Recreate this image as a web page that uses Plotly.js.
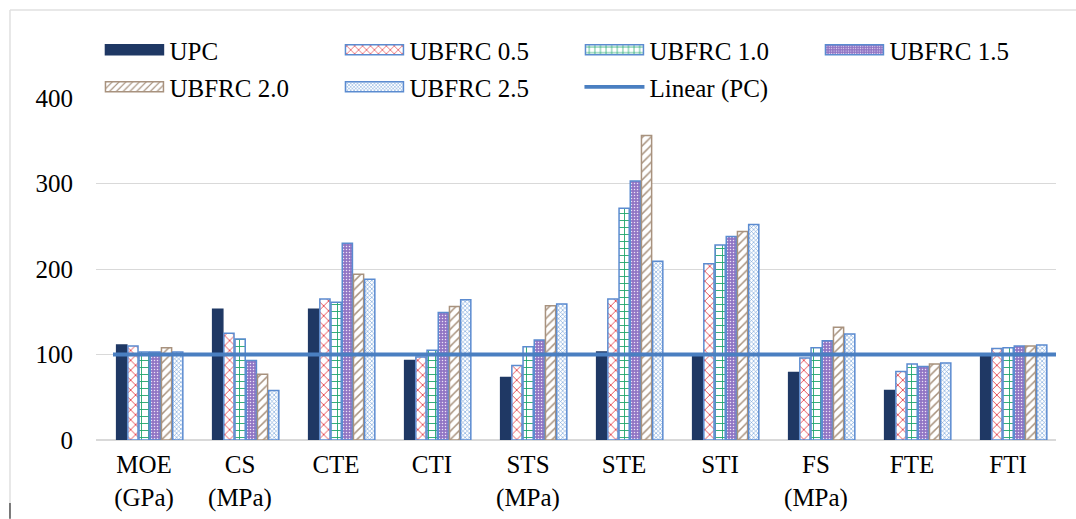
<!DOCTYPE html>
<html>
<head>
<meta charset="utf-8">
<script src="https://cdn.plot.ly/plotly-3.0.1.min.js"></script>
<style>html,body{margin:0;padding:0;background:#fff;}#chart{width:1076px;height:519px;}</style>
</head>
<body>
<div id="chart"></div>
<script>
var categories = ["MOE<br>(GPa)", "CS<br>(MPa)", "CTE", "CTI", "STS<br>(MPa)", "STE", "STI", "FS<br>(MPa)", "FTE", "FTI"];
var upc     = [111, 153, 153, 93, 73, 103, 98, 79, 58, 98];
var ubfrc05 = [110, 125, 165, 97, 87, 165, 206, 96, 80, 107];
var ubfrc10 = [103, 118, 161, 105, 109, 271, 228, 108, 89, 108];
var ubfrc15 = [103, 93, 230, 149, 117, 303, 238, 116, 86, 110];
var ubfrc20 = [108, 77, 194, 156, 157, 356, 244, 132, 89, 110];
var ubfrc25 = [103, 58, 188, 164, 159, 209, 252, 124, 90, 111];
var pcValue = [100, 100];
var trendSpan = [0.0177, 1];
var yTicks = [0, 100, 200, 300, 400];

var serif = "Liberation Serif";
var borderBlue = "#5b8bd0";
var step = 0.1167, bw = 0.106, start = -0.285;

function bar(name, y, idx, markerColor, lineColor, pattern, legend) {
  var m = {color: markerColor, line: {color: lineColor, width: 1.5}};
  if (pattern) m.pattern = pattern;
  return {type: "bar", name: name, x: categories, y: y, marker: m,
          width: bw, offset: start + idx * step, legend: legend, hoverinfo: "y"};
}

var traces = [
  bar("UPC", upc, 0, "#1f3864", "#1f3864", null, "legend"),
  bar("UBFRC 0.5", ubfrc05, 1, "#ffffff", borderBlue,
      {shape: "x", fgcolor: "#e3424b", bgcolor: "#ffffff", size: 7, solidity: 0.24, fillmode: "replace"}, "legend"),
  bar("UBFRC 1.0", ubfrc10, 2, "#ffffff", borderBlue,
      {shape: "+", fgcolor: "#1fa56c", bgcolor: "#ffffff", size: 7, solidity: 0.24, fillmode: "replace"}, "legend"),
  bar("UBFRC 1.5", ubfrc15, 3, "#9a7cc9", borderBlue,
      {shape: ".", fgcolor: "#ece4f6", bgcolor: "#9175c4", size: 3, solidity: 0.2, fillmode: "replace"}, "legend"),
  bar("UBFRC 2.0", ubfrc20, 4, "#ffffff", "#a8927e",
      {shape: "/", fgcolor: "#a8927e", bgcolor: "#ffffff", size: 6, solidity: 0.25, fillmode: "replace"}, "legend2"),
  bar("UBFRC 2.5", ubfrc25, 5, "#ffffff", borderBlue,
      {shape: "x", fgcolor: "#6f9fd8", bgcolor: "#ffffff", size: 3, solidity: 0.35, fillmode: "replace"}, "legend2"),
  {type: "scatter", mode: "lines", name: "Linear (PC)", x: trendSpan, y: pcValue,
   xaxis: "x2", yaxis: "y", line: {color: "#4a7fc1", width: 3.8}, legend: "legend2", hoverinfo: "skip"}
];

var legendBase = {orientation: "h", xanchor: "left", yanchor: "middle", x: 0.0036,
  font: {family: serif, size: 25, color: "#000"}, entrywidth: 165, entrywidthmode: "pixels",
  bgcolor: "rgba(0,0,0,0)", itemwidth: 60, traceorder: "normal"};

var layout = {
  width: 1076, height: 519,
  margin: {l: 96, r: 20, t: 98, b: 79},
  paper_bgcolor: "#ffffff", plot_bgcolor: "#ffffff",
  barmode: "overlay",
  showlegend: true,
  legend: Object.assign({}, legendBase, {y: 1.14}),
  legend2: Object.assign({}, legendBase, {y: 1.032}),
  xaxis: {type: "category", range: [-0.5, 9.5], showgrid: false, zeroline: false, showline: false,
          ticks: "", ticklabelstandoff: 7,
          tickfont: {family: serif, size: 25, color: "#000"}, fixedrange: true},
  xaxis2: {overlaying: "x", range: [0, 1], visible: false, fixedrange: true},
  yaxis: {range: [0, 400], tickvals: yTicks, showgrid: true, gridcolor: "#d9d9d9", gridwidth: 1,
          zeroline: true, zerolinecolor: "#d9d9d9", zerolinewidth: 1.5, showline: false, ticks: "",
          ticklabelstandoff: 22,
          tickfont: {family: serif, size: 25, color: "#000"}, fixedrange: true},
  shapes: [
    {type: "line", xref: "paper", yref: "paper", x0: -0.0896, x1: 1.03, y0: 1.2573, y1: 1.2573, line: {color: "#e0e0e0", width: 1.5}},
    {type: "line", xref: "paper", yref: "paper", x0: -0.0896, x1: -0.0896, y0: 1.2573, y1: -0.23, line: {color: "#e0e0e0", width: 1.5}},
    {type: "line", xref: "paper", yref: "paper", x0: -0.0896, x1: -0.0896, y0: -0.184, y1: -0.23, line: {color: "#555555", width: 1.5}}
  ]
};

Plotly.newPlot("chart", traces, layout, {displayModeBar: false, staticPlot: true}).then(function (gd) {
  // widen the bar legend swatches to match the reference's long rectangles
  var paths = gd.querySelectorAll("g.legend path, g.legend2 path, .legendpoints path");
  paths.forEach(function (p) {
    var d = p.getAttribute("d") || "";
    if (/^M6,6H-6V-6H6Z$/.test(d.replace(/\s/g, ""))) {
      p.setAttribute("d", "M29,5H-29V-5H29Z");
    }
  });
});
</script>
</body>
</html>
